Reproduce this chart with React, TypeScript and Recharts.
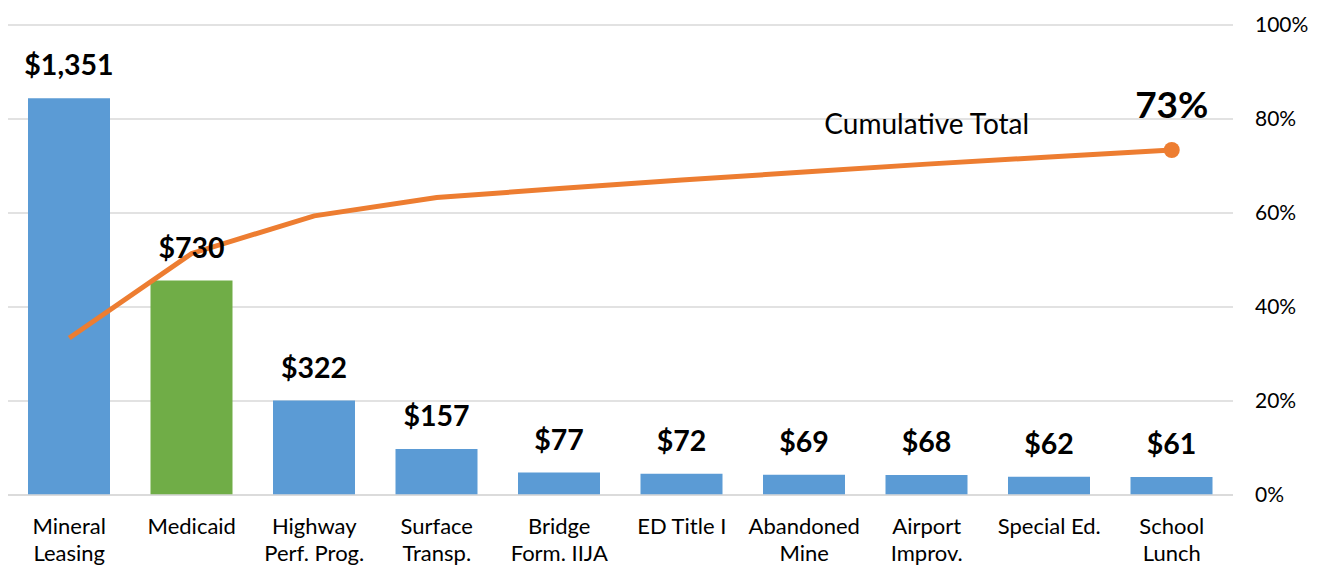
import React from "react";
import { ComposedChart, Bar, Line, XAxis, YAxis, CartesianGrid, LabelList, Cell } from "recharts";

const categories = [
  "Mineral|Leasing",
  "Medicaid",
  "Highway|Perf. Prog.",
  "Surface|Transp.",
  "Bridge|Form. IIJA",
  "ED Title I",
  "Abandoned|Mine",
  "Airport|Improv.",
  "Special Ed.",
  "School|Lunch",
];
const amounts = [1351, 730, 322, 157, 77, 72, 69, 68, 62, 61];
const amountLabels = ["$1,351", "$730", "$322", "$157", "$77", "$72", "$69", "$68", "$62", "$61"];
const cumulative = [0.334, 0.514, 0.594, 0.633, 0.652, 0.67, 0.687, 0.704, 0.719, 0.734];
const barColors = ["#5B9BD5", "#70AD47", "#5B9BD5", "#5B9BD5", "#5B9BD5", "#5B9BD5", "#5B9BD5", "#5B9BD5", "#5B9BD5", "#5B9BD5"];
const rightTicks = [0, 0.2, 0.4, 0.6, 0.8, 1];
const seriesLabel = "Cumulative Total";
const finalLabel = "73%";

const data = categories.map((c, i) => ({
  name: c,
  amount: amounts[i],
  label: amountLabels[i],
  cum: cumulative[i],
}));

const FONT = "Lato, 'Open Sans', sans-serif";

const CategoryTick = (props: any) => {
  const { x, y, payload } = props;
  const lines = String(payload.value).split("|");
  return (
    <g>
      {lines.map((l, i) => (
        <text
          key={i}
          x={x}
          y={y + 25 + i * 27}
          textAnchor="middle"
          dominantBaseline="middle"
          fontFamily={FONT}
          fontSize={22}
          fill="#000"
        >
          {l}
        </text>
      ))}
    </g>
  );
};

const BarLabel = (props: any) => {
  const { x, y, width, index } = props;
  return (
    <text
      x={x + width / 2}
      y={y - 30}
      textAnchor="middle"
      dominantBaseline="middle"
      fontFamily={FONT}
      fontWeight="bold"
      fontSize={28.5}
      fill="#000"
    >
      {amountLabels[index]}
    </text>
  );
};

const LineLabel = (props: any) => {
  const { x, y, index } = props;
  if (index === 7) {
    return (
      <text x={x} y={y - 37} textAnchor="middle" dominantBaseline="middle" fontFamily={FONT} fontSize={28} fill="#000">
        {seriesLabel}
      </text>
    );
  }
  if (index === 9) {
    return (
      <text x={x} y={y - 42} textAnchor="middle" dominantBaseline="middle" fontFamily={FONT} fontWeight="bold" fontSize={37} fill="#000">
        {finalLabel}
      </text>
    );
  }
  return null;
};

const LineDot = (props: any) => {
  const { cx, cy, index } = props;
  if (index !== cumulative.length - 1) return <g key={index} />;
  return <circle key={index} cx={cx} cy={cy} r={8} fill="#ED7D31" />;
};

export default function App() {
  return (
    <div style={{ position: "absolute", left: 0, top: 0, width: 1320, height: 566, background: "#fff" }}>
      <ComposedChart
        width={1320}
        height={566}
        data={data}
        margin={{ top: 25, right: 0, bottom: 0, left: 8 }}
        barCategoryGap={0}
      >
        <CartesianGrid yAxisId="right" vertical={false} stroke="#D9D9D9" strokeWidth={1.5} />
        <XAxis
          dataKey="name"
          height={71}
          interval={0}
          tick={<CategoryTick />}
          tickLine={false}
          axisLine={{ stroke: "#D9D9D9", strokeWidth: 1.5 }}
        />
        <YAxis yAxisId="left" hide domain={[0, 1600]} />
        <YAxis
          yAxisId="right"
          orientation="right"
          width={87}
          domain={[0, 1]}
          ticks={rightTicks}
          tickFormatter={(v: number) => `${Math.round(v * 100)}%`}
          tickLine={false}
          axisLine={false}
          tickSize={0}
          tickMargin={22}
          tick={{ fontFamily: FONT, fontSize: 21, fill: "#000" }}
        />
        <Bar yAxisId="left" dataKey="amount" barSize={82} isAnimationActive={false}>
          {data.map((d, i) => (
            <Cell key={i} fill={barColors[i]} />
          ))}
          <LabelList dataKey="amount" content={<BarLabel />} />
        </Bar>
        <Line
          yAxisId="right"
          type="linear"
          dataKey="cum"
          stroke="#ED7D31"
          strokeWidth={5}
          dot={<LineDot />}
          activeDot={false}
          isAnimationActive={false}
        >
          <LabelList dataKey="cum" content={<LineLabel />} />
        </Line>
      </ComposedChart>
    </div>
  );
}
